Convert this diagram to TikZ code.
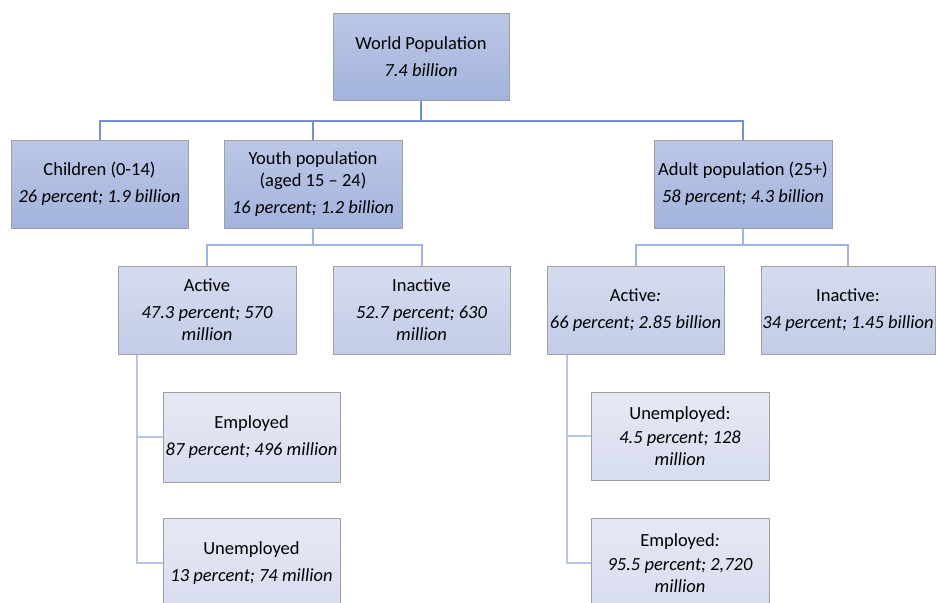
\documentclass[tikz,border=0pt]{standalone}
\usepackage{fontspec}
\setmainfont{Carlito}
\definecolor{bordc}{HTML}{A0A0A0}
\definecolor{l1top}{HTML}{BCC7E6}
\definecolor{l1bot}{HTML}{A3B3DC}
\definecolor{l2top}{HTML}{D6DCEF}
\definecolor{l2bot}{HTML}{C3CCE8}
\definecolor{l3top}{HTML}{E6E9F4}
\definecolor{l3bot}{HTML}{D7DCEF}
\definecolor{c1}{HTML}{7390D0}
\definecolor{c2}{HTML}{A2B4DF}
\definecolor{c3}{HTML}{B8C5E6}
\tikzset{
  boxbase/.style={draw=bordc, line width=1pt, align=center, inner sep=1pt,
    font=\fontsize{18.5}{22}\selectfont},
  lvlone/.style={boxbase, top color=l1top, bottom color=l1bot},
  lvltwo/.style={boxbase, top color=l2top, bottom color=l2bot},
  lvlthree/.style={boxbase, top color=l3top, bottom color=l3bot},
  conone/.style={draw=c1, line width=2pt},
  contwo/.style={draw=c2, line width=2pt},
  conthree/.style={draw=c3, line width=2pt},
}
\begin{document}
\begin{tikzpicture}[x=1pt,y=-1pt]
\useasboundingbox (0,0) rectangle (936,602);
\clip (0,0) rectangle (936,602);
\fill[white] (0,0) rectangle (936,602);
% level 1
\node[lvlone, minimum width=176pt, minimum height=86pt] (world) at (421,57) {World Population\\[5pt]\itshape 7.4 billion};
\node[lvlone, minimum width=177pt, minimum height=88pt] (child) at (99.5,184) {Children (0-14)\\[5pt]\itshape 26 percent; 1.9 billion};
\node[lvlone, minimum width=178pt, minimum height=88pt] (youth) at (313,184) {Youth population\\(aged 15 -- 24)\\[5pt]\itshape 16 percent; 1.2 billion};
\node[lvlone, minimum width=178pt, minimum height=88pt] (adult) at (743,184) {Adult population (25+)\\[5pt]\itshape 58 percent; 4.3 billion};
% level 2
\node[lvltwo, minimum width=178pt, minimum height=88pt] (yact) at (207,310) {Active\\[5pt]\itshape 47.3 percent; 570\\\itshape million};
\node[lvltwo, minimum width=177pt, minimum height=88pt] (yina) at (421.5,310) {Inactive\\[5pt]\itshape 52.7 percent; 630\\\itshape million};
\node[lvltwo, minimum width=177pt, minimum height=88pt] (aact) at (635.5,310) {Active\textit{:}\\[5pt]\itshape 66 percent; 2.85 billion};
\node[lvltwo, minimum width=174pt, minimum height=88pt] (aina) at (848,310) {Inactive:\\[5pt]\itshape 34 percent; 1.45 billion};
% level 3
\node[lvlthree, minimum width=177pt, minimum height=90pt] (yemp) at (251.5,437) {Employed\\[5pt]\itshape 87 percent; 496 million};
\node[lvlthree, minimum width=177pt, minimum height=90pt] (yune) at (251.5,563) {Unemployed\\[5pt]\itshape 13 percent; 74 million};
\node[lvlthree, minimum width=178pt, minimum height=88pt] (aune) at (680,436) {Unemployed:\\[2pt]\itshape 4.5 percent; 128\\\itshape million};
\node[lvlthree, minimum width=178pt, minimum height=90pt] (aemp) at (680,563) {Employed\textit{:}\\[2pt]\itshape 95.5 percent; 2,720\\\itshape million};
% connectors level 1
\coordinate (j1) at (421,121);
\draw[conone] (world.south) -- (j1);
\draw[conone] (j1) -| (child.north);
\draw[conone] (j1) -| (youth.north);
\draw[conone] (j1) -| (adult.north);
% connectors level 2
\coordinate (j2) at (313,245);
\draw[contwo] (youth.south) -- (j2);
\draw[contwo] (j2) -| (yact.north);
\draw[contwo] (j2) -| (yina.north);
\coordinate (j3) at (743,245);
\draw[contwo] (adult.south) -- (j3);
\draw[contwo] (j3) -| (aact.north);
\draw[contwo] (j3) -| (aina.north);
% connectors level 3
\coordinate (v1) at ([xshift=19pt]yact.south west);
\draw[conthree] (v1) |- (yemp.west);
\draw[conthree] (v1) |- (yune.west);
\coordinate (v2) at ([xshift=20pt]aact.south west);
\draw[conthree] (v2) |- (aune.west);
\draw[conthree] (v2) |- (aemp.west);
\end{tikzpicture}
\end{document}
